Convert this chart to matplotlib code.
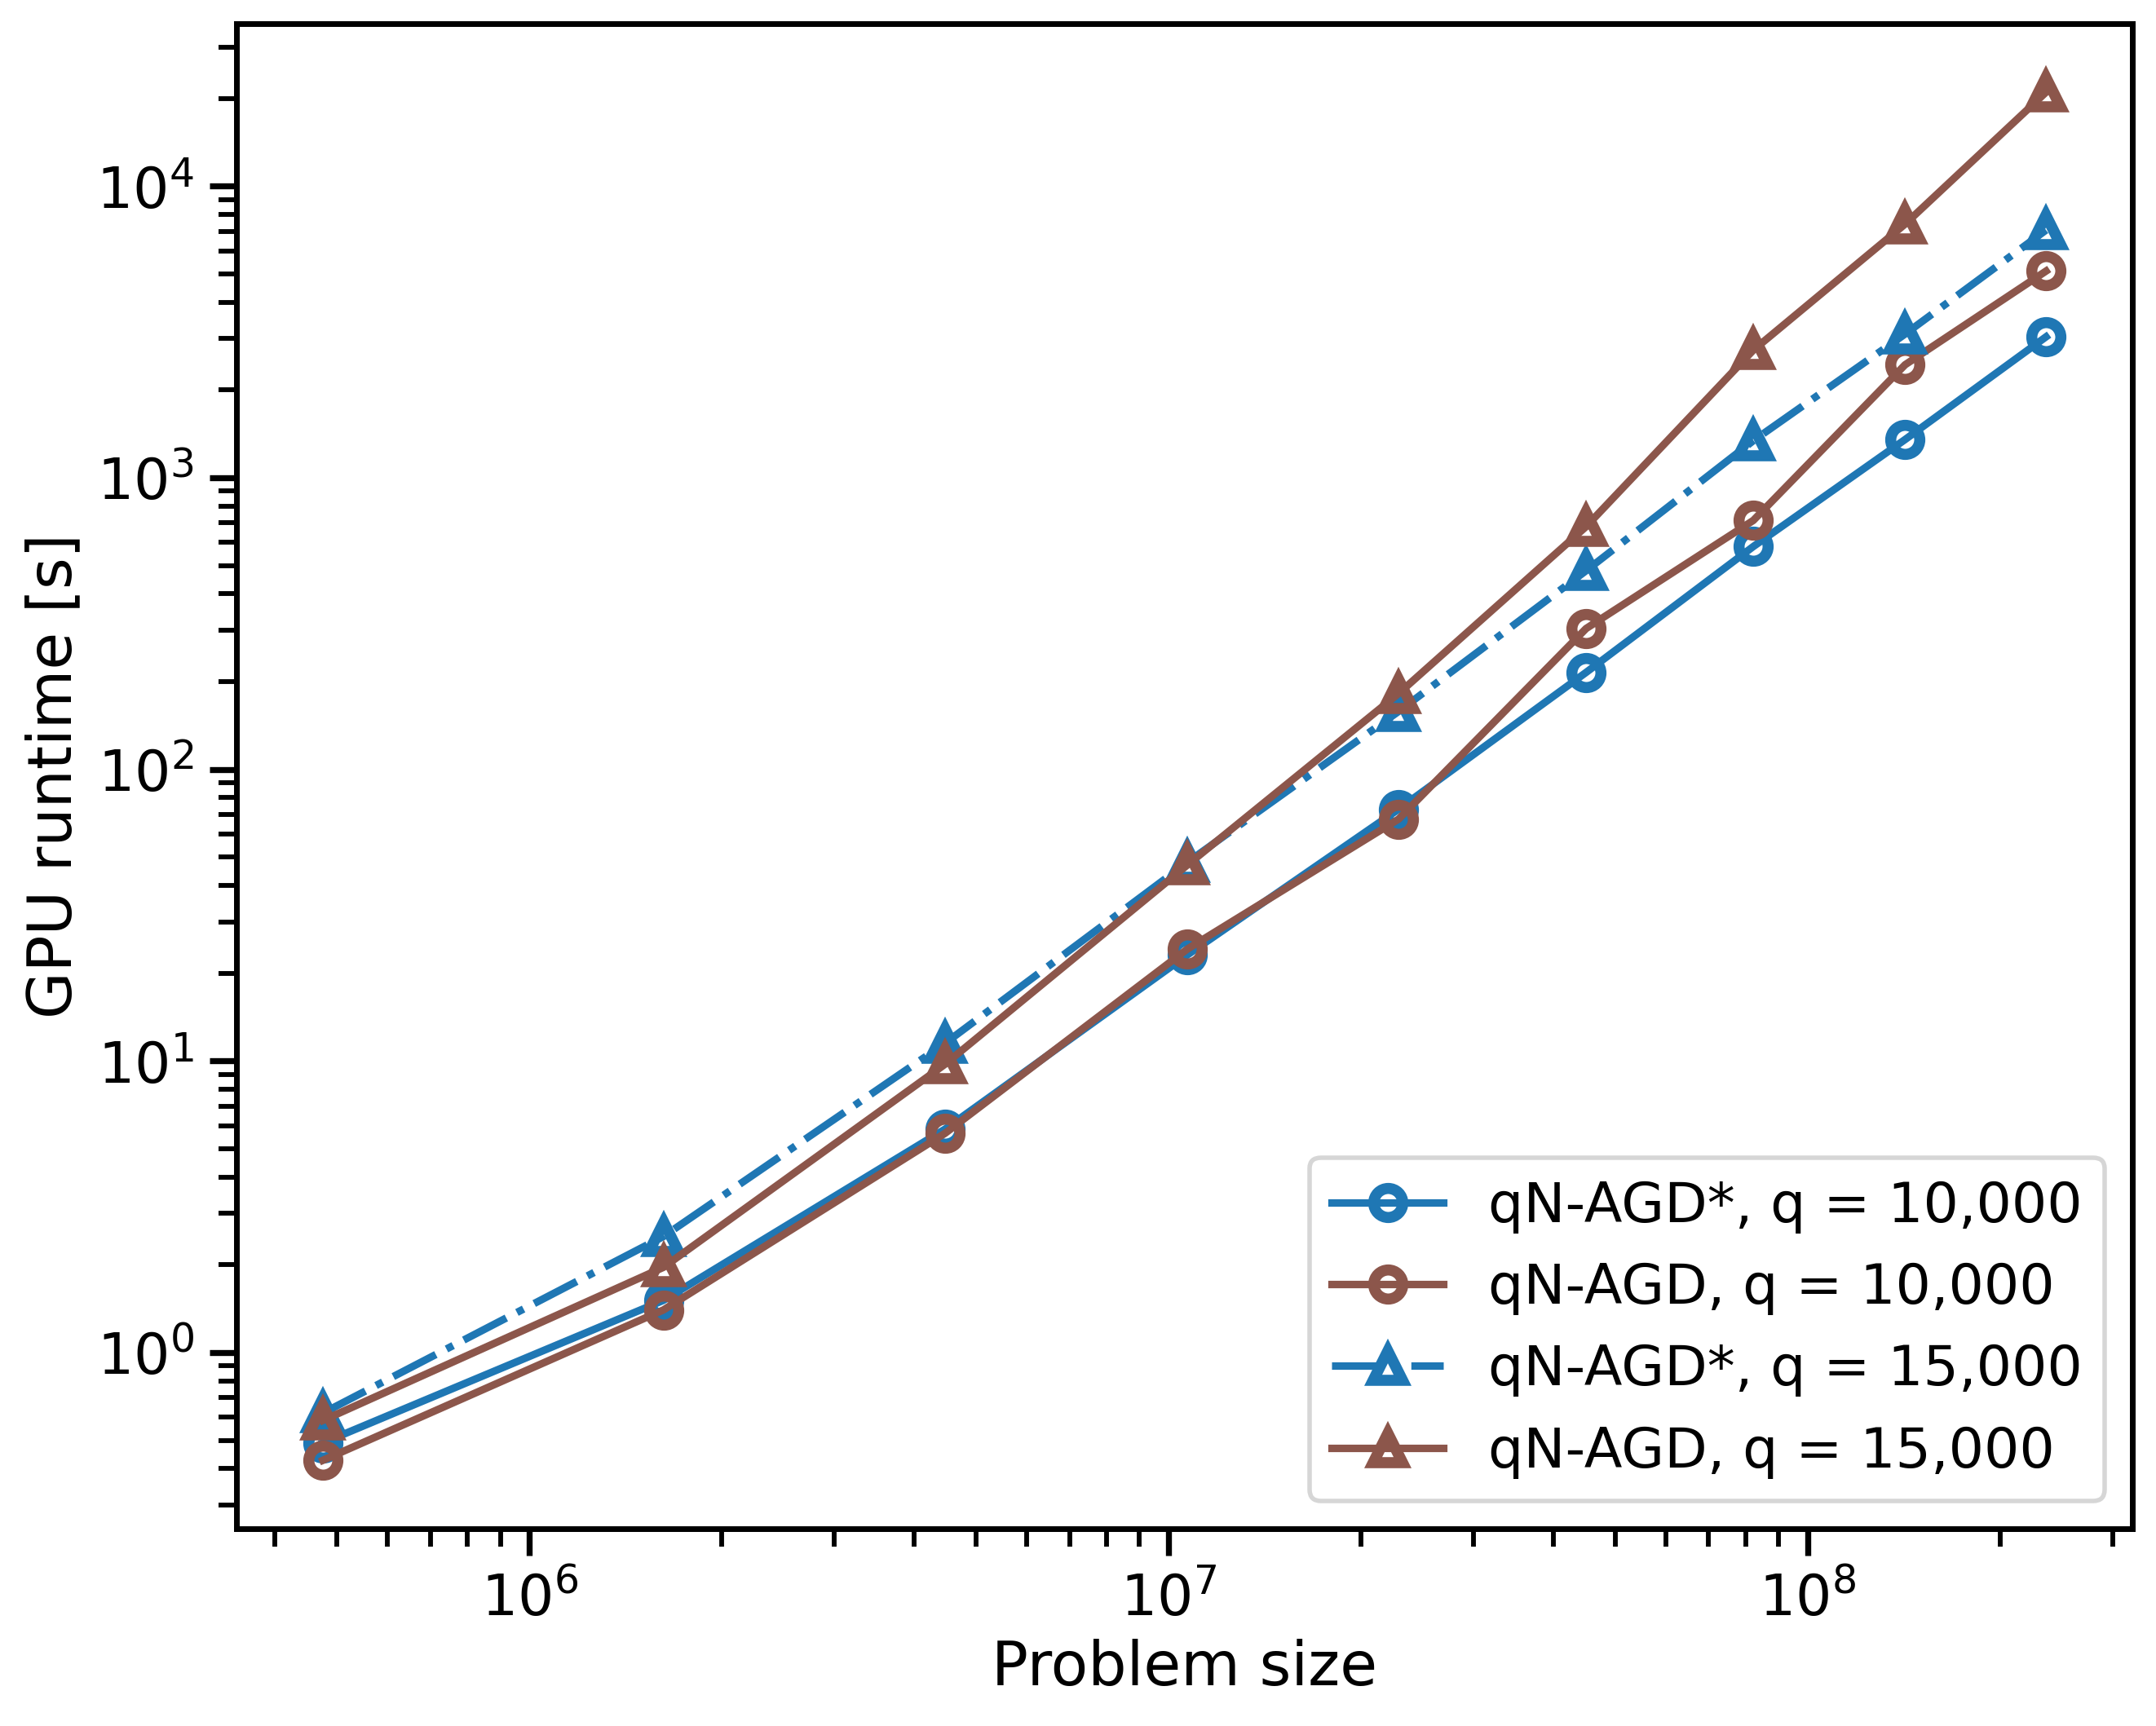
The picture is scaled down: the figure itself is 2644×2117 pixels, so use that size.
import numpy as np
import matplotlib
matplotlib.use("Agg")
import matplotlib.pyplot as plt

# problem sizes (x) and GPU runtimes in seconds (y)
problem_size = [4.75e5, 1.62e6, 4.47e6, 1.07e7, 2.29e7, 4.50e7, 8.22e7, 1.42e8, 2.36e8]

star_q10k = [0.49, 1.51, 5.84, 23.1, 73, 215, 581, 1352, 3043]
plain_q10k = [0.427, 1.40, 5.65, 24.2, 67.5, 304, 714, 2440, 5115]
star_q15k = [0.62, 2.50, 11.5, 48, 158, 480, 1340, 3110, 7070]
plain_q15k = [0.585, 1.96, 9.75, 47, 182, 680, 2740, 7410, 21000]

labels = ["qN-AGD*, q = 10,000", "qN-AGD, q = 10,000",
          "qN-AGD*, q = 15,000", "qN-AGD, q = 15,000"]

blue = "#1f77b4"
brown = "#8c564b"

plt.rcParams.update({
    "font.size": 19.0,
    "axes.labelsize": 20.3,
    "xtick.labelsize": 19.0, "ytick.labelsize": 19.0,
    "axes.linewidth": 1.9,
    "xtick.major.size": 9, "ytick.major.size": 9,
    "xtick.minor.size": 6, "ytick.minor.size": 6,
    "xtick.major.width": 2.0, "ytick.major.width": 2.0,
    "xtick.minor.width": 1.6, "ytick.minor.width": 1.6,
    "xtick.major.pad": 5.25, "ytick.major.pad": 5.25,
    "legend.fontsize": 18.6,
    "patch.linewidth": 1.5,
})

fig, ax = plt.subplots(figsize=(10, 2117 / 264.4), dpi=264.4)
fig.subplots_adjust(left=0.1098, right=0.98896, top=0.98621, bottom=0.1143)

style = dict(lw=2.5, ms=9.7, mew=3.7, mfc="none")
ax.plot(problem_size, star_q10k, "-", marker="o", color=blue, label=labels[0], **style)
ax.plot(problem_size, plain_q10k, "-", marker="o", color=brown, label=labels[1], **style)
ax.plot(problem_size, star_q15k, "-.", marker="^", color=blue, label=labels[2], **style)
ax.plot(problem_size, plain_q15k, "-", marker="^", color=brown, label=labels[3], **style)

ax.set_xscale("log")
ax.set_yscale("log")
ax.set_xlabel("Problem size")
ax.set_ylabel("GPU runtime [s]")
ax.legend(loc="lower right")

fig.savefig("out.png", dpi=264.4)
